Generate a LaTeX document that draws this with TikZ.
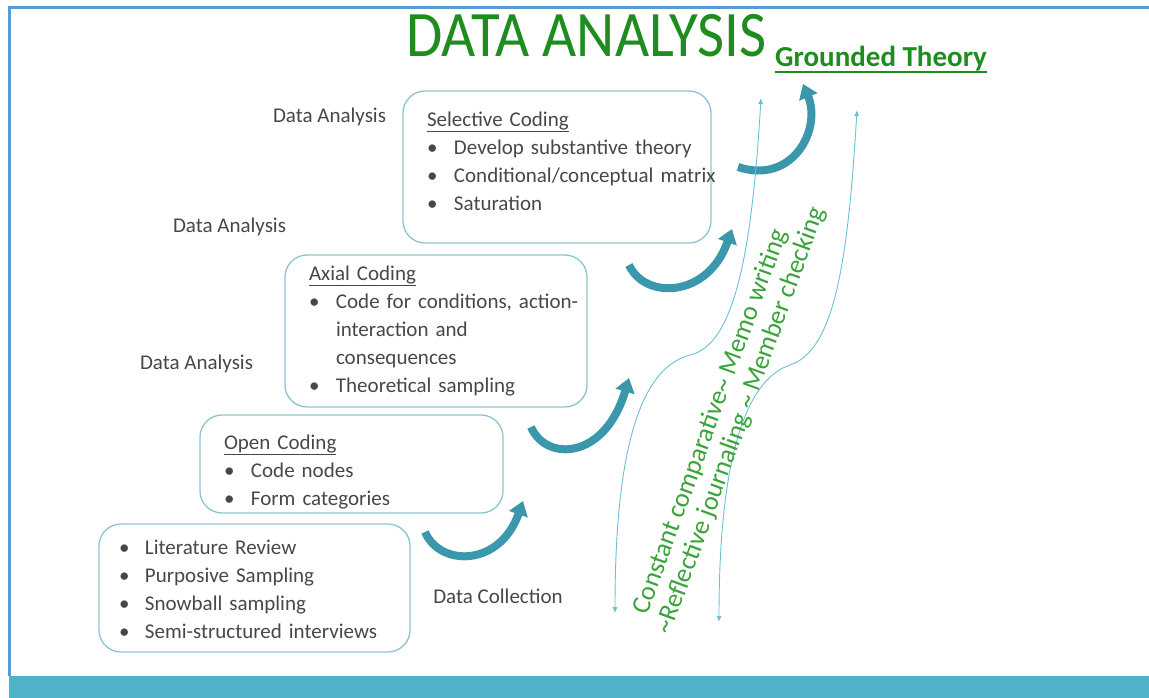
\documentclass[tikz,border=0pt]{standalone}
\usepackage{fontspec}
\setmainfont{Carlito}
\usetikzlibrary{arrows.meta}

\definecolor{framecol}{HTML}{5B9BD5}
\definecolor{barcol}{HTML}{4FB3C8}
\definecolor{boxcol}{HTML}{8DC3D1}
\definecolor{textcol}{HTML}{474747}
\definecolor{titlecol}{HTML}{1E8C1E}
\definecolor{notecol}{HTML}{3AA33A}
\definecolor{stepcol}{HTML}{3B97AC}
\definecolor{linecol}{HTML}{6CC0D4}

\begin{document}
\begin{tikzpicture}[x=1pt, y=-1pt,
    every node/.style={text=textcol, font=\fontsize{21}{28}\selectfont},
    stage/.style={draw=boxcol, line width=1.3pt, rounded corners=22pt,
        inner xsep=24pt, inner ysep=0pt, align=left},
    phase/.style={inner sep=0pt},
    stepper/.style={draw=stepcol, line width=8pt,
        -{Triangle[width=19pt, length=14pt]}},
    loop/.style={draw=linecol, line width=0.9pt,
        {Latex[length=6pt, width=5pt]}-{Latex[length=6pt, width=5pt]}},
    note/.style={text=notecol, font=\fontsize{26.5}{28}\selectfont, rotate=70,
        inner sep=0pt, align=left}
]

    \useasboundingbox (0,0) rectangle (1149,698);

    \fill[barcol] (9,676) rectangle (1149,698);
    \draw[framecol, line width=3pt] (9,676) -- (9,8) -- (1149,8);

    \node[phase, text=titlecol, font=\fontsize{59}{59}\selectfont, anchor=base west] (title) at (406,57) {\scalebox{1}[1.1]{DATA ANALYSIS}};
    \node[phase, text=titlecol, font=\fontsize{29}{29}\selectfont\bfseries, anchor=base west] (grounded) at (775,67) {Grounded Theory};
    \draw[titlecol, line width=1.8pt] ([yshift=-5pt]grounded.base west) -- ([yshift=-5pt]grounded.base east);

    \node[stage, text width=260pt, minimum height=152pt] (selective) at (557,167) {
        \raisebox{4pt}[\height][\depth]{\begin{tabular}{@{}p{27pt}@{}l@{}}
            \multicolumn{2}{@{}l@{}}{\underline{Selective Coding}} \\
            \textbullet & Develop substantive theory \\
            \textbullet & Conditional/conceptual matrix \\
            \textbullet & Saturation \\
        \end{tabular}}
    };

    \node[stage, text width=254pt, minimum height=152pt] (axial) at (436,331) {
        \begin{tabular}{@{}p{27pt}@{}l@{}}
            \multicolumn{2}{@{}l@{}}{\underline{Axial Coding}} \\
            \textbullet & Code for conditions, action- \\
                        & interaction and \\
                        & consequences \\
            \textbullet & Theoretical sampling \\
        \end{tabular}
    };

    \node[stage, text width=255pt, minimum height=98pt] (open) at (351.5,464) {
        \raisebox{-8pt}[\height][\depth]{\begin{tabular}{@{}p{27pt}@{}l@{}}
            \multicolumn{2}{@{}l@{}}{\underline{Open Coding}} \\
            \textbullet & Code nodes \\
            \textbullet & Form categories \\
        \end{tabular}}
    };

    \node[stage, inner xsep=20pt, text width=271pt, minimum height=128pt] (collect) at (254.5,588) {
        \raisebox{-3pt}[\height][\depth]{\begin{tabular}{@{}p{26pt}@{}l@{}}
            \textbullet & Literature Review \\
            \textbullet & Purposive Sampling \\
            \textbullet & Snowball sampling \\
            \textbullet & Semi-structured interviews \\
        \end{tabular}}
    };

    \node[phase] (analysis3) at (329.5,117) {Data Analysis};
    \node[phase] (analysis2) at (229.5,227) {Data Analysis};
    \node[phase] (analysis1) at (196.5,364) {Data Analysis};
    \node[phase] (collection) at (498,596) {Data Collection};

    \coordinate (step1 start) at (425,532);
    \coordinate (step1 end) at (523,501);
    \coordinate (step2 start) at (531,427);
    \coordinate (step2 end) at (629,378);
    \coordinate (step3 start) at (629,265);
    \coordinate (step3 end) at (732,229);
    \coordinate (step4 start) at (738,167);
    \coordinate (step4 end) at (803,84);

    \draw[stepper] (step1 start) .. controls (440,567) and (500,567) .. (step1 end);
    \draw[stepper] (step2 start) .. controls (546,462) and (605,460) .. (step2 end);
    \draw[stepper] (step3 start) .. controls (645,300) and (708,298) .. (step3 end);
    \draw[stepper] (step4 start) .. controls (792,185) and (822,130) .. (step4 end);

    \coordinate (cc bottom) at (615,613);
    \coordinate (cc top) at (761,98);
    \coordinate (rj bottom) at (719,622);
    \coordinate (rj top) at (857,110);

    \draw[loop] (cc bottom) .. controls (615,450) and (640,368) .. (690,355)
        .. controls (735,345) and (752,250) .. (cc top);
    \draw[loop] (rj bottom) .. controls (719,460) and (745,380) .. (790,365)
        .. controls (835,350) and (848,260) .. (rj top);

    \node[note] (memo) at (728,416) {\hspace{11pt}Constant comparative\textasciitilde{} Memo writing\\
        \textasciitilde Reflective journaling \textasciitilde{} Member checking};

\end{tikzpicture}
\end{document}
